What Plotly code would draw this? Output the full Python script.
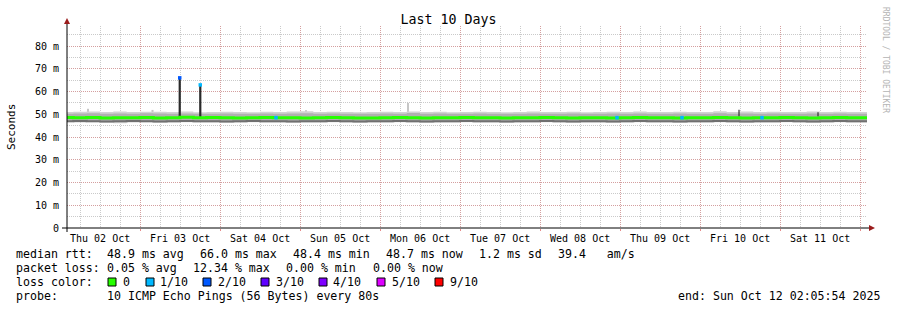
import plotly.graph_objects as go
import pandas as pd

# ---------------- data ----------------
title_text = "Last 10 Days"
start_time = "2025-10-02 02:05:54"
end_time = "2025-10-12 02:05:54"

day_labels = ["Thu 02 Oct", "Fri 03 Oct", "Sat 04 Oct", "Sun 05 Oct", "Mon 06 Oct",
              "Tue 07 Oct", "Wed 08 Oct", "Thu 09 Oct", "Fri 10 Oct", "Sat 11 Oct"]
label_times = ["2025-10-02 12:00", "2025-10-03 12:00", "2025-10-04 12:00", "2025-10-05 12:00",
               "2025-10-06 12:00", "2025-10-07 12:00", "2025-10-08 12:00", "2025-10-09 12:00",
               "2025-10-10 12:00", "2025-10-11 12:00"]
midnights = ["2025-10-03", "2025-10-04", "2025-10-05", "2025-10-06", "2025-10-07",
             "2025-10-08", "2025-10-09", "2025-10-10", "2025-10-11", "2025-10-12"]

ytick_vals = [0, 10, 20, 30, 40, 50, 60, 70, 80]
ytick_text = ["0", "10 m", "20 m", "30 m", "40 m", "50 m", "60 m", "70 m", "80 m"]

# 4-hourly samples (ms) from 2025-10-02 00:00, plus the end point
sample_times = list(pd.date_range("2025-10-02 00:00", periods=61, freq="4h")) + [pd.Timestamp(end_time)]

median_ms = [48.6, 48.5, 48.6, 48.4, 48.5, 48.5, 48.6, 48.4, 48.5, 48.7, 48.5, 48.6, 48.5, 48.4,
             48.5, 48.6, 48.5, 48.5, 48.4, 48.5, 48.6, 48.5, 48.4, 48.4, 48.5, 48.6, 48.5, 48.4,
             48.5, 48.5, 48.6, 48.5, 48.5, 48.4, 48.5, 48.5, 48.6, 48.5, 48.4, 48.5, 48.5, 48.4,
             48.5, 48.6, 48.5, 48.5, 48.4, 48.5, 48.5, 48.6, 48.5, 48.4, 48.5, 48.5, 48.6, 48.5,
             48.4, 48.5, 48.6, 48.5, 48.5, 48.5]
smoke_max_ms = [51.0, 51.1, 51.2, 51.0, 51.2, 51.0, 51.1, 51.1, 51.0, 51.2, 50.9, 51.0, 51.1, 51.0,
                50.9, 51.1, 51.0, 51.2, 51.3, 51.0, 51.1, 51.0, 50.9, 51.0, 51.1, 51.0, 51.2, 51.0,
                51.1, 50.9, 51.0, 51.1, 51.0, 50.9, 51.0, 51.2, 51.0, 51.0, 51.1, 50.9, 51.0, 51.1,
                51.0, 51.2, 51.0, 51.0, 51.1, 51.0, 51.0, 51.3, 51.0, 51.2, 51.0, 51.1, 51.0, 51.0,
                51.2, 51.0, 51.1, 51.0, 51.0, 51.0]
smoke_hi_ms = [50.2, 50.3, 50.4, 50.2, 50.3, 50.2, 50.4, 50.3, 50.2, 50.3, 50.2, 50.2, 50.3, 50.2,
               50.2, 50.3, 50.2, 50.3, 50.4, 50.2, 50.3, 50.2, 50.2, 50.2, 50.3, 50.2, 50.5, 50.2,
               50.3, 50.2, 50.2, 50.3, 50.2, 50.2, 50.2, 50.3, 50.2, 50.2, 50.3, 50.2, 50.2, 50.3,
               50.2, 50.3, 50.2, 50.2, 50.3, 50.2, 50.2, 50.4, 50.2, 50.3, 50.2, 50.3, 50.2, 50.2,
               50.3, 50.2, 50.3, 50.2, 50.2, 50.2]
smoke_core_lo_ms = [46.9, 47.0, 46.9, 46.8, 46.9, 47.0, 46.9, 46.8, 46.9, 47.0, 46.9, 46.9, 46.8, 46.9,
                    47.0, 46.9, 46.9, 46.8, 46.9, 46.9, 47.0, 46.9, 46.8, 46.9, 46.9, 47.0, 46.9, 46.8,
                    46.9, 46.9, 47.0, 46.9, 46.9, 46.8, 46.9, 46.9, 47.0, 46.9, 46.8, 46.9, 46.9, 46.8,
                    46.9, 47.0, 46.9, 46.9, 46.8, 46.9, 46.9, 47.0, 46.9, 46.8, 46.9, 46.9, 47.0, 46.9,
                    46.8, 46.9, 47.0, 46.9, 46.9, 46.9]
smoke_min_ms = [46.5, 46.4, 46.5, 46.3, 46.0, 46.4, 46.5, 46.3, 46.4, 46.5, 46.4, 46.4, 46.3, 46.4,
                46.5, 46.4, 46.4, 46.3, 46.4, 46.4, 46.5, 46.4, 46.3, 46.4, 46.4, 46.5, 46.4, 46.3,
                46.4, 46.4, 46.5, 46.4, 46.4, 46.3, 46.4, 46.4, 46.5, 46.4, 46.3, 46.4, 46.4, 46.3,
                46.4, 46.5, 46.4, 46.4, 46.3, 46.4, 46.4, 46.5, 46.4, 46.3, 46.4, 46.4, 46.5, 46.4,
                46.3, 46.4, 46.5, 46.4, 46.4, 46.4]

# short isolated smoke outliers (light) and dark ping outliers
light_outlier_times = ["2025-10-02 08:24", "2025-10-03 03:45", "2025-10-05 01:48", "2025-10-06 08:24"]
light_outlier_ms = [52.4, 51.9, 51.8, 55.0]
dark_outlier_times = ["2025-10-10 11:42", "2025-10-11 11:24"]
dark_outlier_ms = [52.0, 50.9]

# loss events on the median line
loss_times = ["2025-10-04 16:48", "2025-10-08 23:06", "2025-10-09 18:36", "2025-10-10 18:36"]
loss_values_ms = [48.5, 48.5, 48.5, 48.5]
loss_levels = [1, 1, 1, 1]

# median spikes
spike_times = ["2025-10-03 11:55", "2025-10-03 18:05"]
spike_values_ms = [66.0, 62.9]
spike_loss = [2, 1]

loss_colors = {0: "#26ff00", 1: "#00b8ff", 2: "#0059ff", 3: "#5e00ff", 4: "#7e00ff", 5: "#dd00ff", 9: "#ff0000"}
loss_legend = [(0, "0"), (1, "1/10"), (2, "2/10"), (3, "3/10"), (4, "4/10"), (5, "5/10"), (9, "9/10")]

rtt_items = ["median rtt:", "48.9 ms avg", "66.0 ms max", "48.4 ms min", "48.7 ms now", "1.2 ms sd", "39.4   am/s"]
loss_items = ["packet loss:", "0.05 % avg", "12.34 % max", "0.00 % min", "0.00 % now"]
probe_items = ["probe:", "10 ICMP Echo Pings (56 Bytes) every 80s"]
end_text = "end: Sun Oct 12 02:05:54 2025"

# ---------------- layout geometry (pixels) ----------------
W, H = 897, 310
PL, PR, PT, PB = 67, 30, 26, 82
PW = W - PL - PR     # 800
PH = H - PT - PB     # 202
YMAX = 80 * PH / 182.0
MONO = "DejaVu Sans Mono"
GRID_MAJOR = "rgba(230,90,90,0.38)"
GRID_MINOR = "rgba(150,150,150,0.5)"


def px(x):
    return (x - PL) / PW


def py(y):
    return (PT + PH - y) / PH


fig = go.Figure()

# light outliers behind the smoke
for t, v in zip(light_outlier_times, light_outlier_ms):
    fig.add_trace(go.Scatter(x=[t, t], y=[50.5, v], mode="lines",
                             line=dict(width=2, color="#c6c6c6"), hoverinfo="skip", showlegend=False))

# smoke layers
for lo, hi, col in [(smoke_min_ms, smoke_max_ms, "#d2d2d2"),
                    (smoke_core_lo_ms, smoke_hi_ms, "#b0b0b0")]:
    fig.add_trace(go.Scatter(x=sample_times, y=lo, mode="lines", line=dict(width=0, shape="hv"),
                             hoverinfo="skip", showlegend=False))
    fig.add_trace(go.Scatter(x=sample_times, y=hi, mode="lines", line=dict(width=0, shape="hv"),
                             fill="tonexty", fillcolor=col, hoverinfo="skip", showlegend=False))

# darker smoke directly under the median
fig.add_trace(go.Scatter(x=sample_times, y=smoke_core_lo_ms, mode="lines",
                         line=dict(width=2, shape="hv", color="#707070"),
                         hoverinfo="skip", showlegend=False))

# dark outliers
for t, v in zip(dark_outlier_times, dark_outlier_ms):
    fig.add_trace(go.Scatter(x=[t, t], y=[49.0, v], mode="lines",
                             line=dict(width=1.2, color="#333333"), hoverinfo="skip", showlegend=False))

# spikes
for t, v, l in zip(spike_times, spike_values_ms, spike_loss):
    fig.add_trace(go.Scatter(x=[t, t], y=[48.5, v], mode="lines",
                             line=dict(width=2.2, color="#2a2a2a"), hoverinfo="skip", showlegend=False))

# median line
fig.add_trace(go.Scatter(x=sample_times, y=median_ms, mode="lines",
                         line=dict(width=3, shape="hv", color=loss_colors[0]),
                         hoverinfo="skip", showlegend=False))

# loss-coloured points
fig.add_trace(go.Scatter(x=loss_times, y=loss_values_ms, mode="markers",
                         marker=dict(symbol="square", size=3.5, color=[loss_colors[l] for l in loss_levels],
                                     line=dict(width=0)),
                         hoverinfo="skip", showlegend=False))
fig.add_trace(go.Scatter(x=spike_times, y=spike_values_ms, mode="markers",
                         marker=dict(symbol="square", size=3.5, color=[loss_colors[l] for l in spike_loss],
                                     line=dict(width=0)),
                         hoverinfo="skip", showlegend=False))

fig.update_layout(
    width=W, height=H,
    margin=dict(l=PL, r=PR, t=PT, b=PB, pad=0),
    paper_bgcolor="white", plot_bgcolor="white",
    showlegend=False,
    font=dict(family=MONO, color="black", size=10),
    title=dict(text=title_text, x=0.5, xref="container", xanchor="center",
               y=1 - 19.5 / H, yref="container", yanchor="middle",
               font=dict(family=MONO, size=13.3, color="black")),
    xaxis=dict(type="date", range=[start_time, end_time], tickmode="array",
               tickvals=midnights, ticktext=[""] * len(midnights),
               showgrid=True, gridcolor=GRID_MAJOR, griddash="1px,1px", gridwidth=1,
               ticks="outside", ticklen=2, tickcolor="rgba(220,90,90,0.7)",
               zeroline=False, showline=False, fixedrange=True,
               minor=dict(dtick=6 * 3600 * 1000, tick0="2025-10-02 00:00", showgrid=True,
                          gridcolor=GRID_MINOR, griddash="1px,1px", ticks="")),
    yaxis=dict(range=[0, YMAX], tickmode="array", tickvals=ytick_vals, ticktext=ytick_text,
               showgrid=True, gridcolor=GRID_MAJOR, griddash="1px,1px", gridwidth=1,
               ticks="outside", ticklen=5, tickcolor="rgba(0,0,0,0)",
               tickfont=dict(family=MONO, size=10, color="black"),
               zeroline=False, showline=False, fixedrange=True,
               minor=dict(dtick=5, tick0=0, showgrid=True,
                          gridcolor=GRID_MINOR, griddash="1px,1px", ticks="")),
)

shapes = []
# axes lines
shapes.append(dict(type="line", xref="paper", yref="paper", x0=px(62), x1=px(870), y0=0, y1=0,
                   line=dict(color="black", width=1), layer="above"))
shapes.append(dict(type="line", xref="paper", yref="paper", x0=0, x1=0, y0=py(232), y1=py(22),
                   line=dict(color="black", width=1), layer="above"))
# arrows
arrow_col = "#9b1c1c"
shapes.append(dict(type="path", xref="paper", yref="paper",
                   path=f"M {px(64)},{py(24)} L {px(70)},{py(24)} L {px(67)},{py(18)} Z",
                   fillcolor=arrow_col, line=dict(width=0), layer="above"))
shapes.append(dict(type="path", xref="paper", yref="paper",
                   path=f"M {px(869)},{py(225)} L {px(869)},{py(231)} L {px(875)},{py(228)} Z",
                   fillcolor=arrow_col, line=dict(width=0), layer="above"))

annotations = []
# day labels
for t, lab in zip(label_times, day_labels):
    annotations.append(dict(x=t, xref="x", y=0, yref="paper", yanchor="top", xanchor="center",
                            yshift=-4, text=lab, showarrow=False, borderpad=0,
                            font=dict(family=MONO, size=10, color="black")))
# y-axis title
annotations.append(dict(x=px(11), xref="paper", y=py(127), yref="paper", text="Seconds",
                        textangle=-90, showarrow=False, xanchor="center", yanchor="middle",
                        font=dict(family=MONO, size=11, color="black")))
# watermark
annotations.append(dict(x=px(886), xref="paper", y=py(60), yref="paper", text="RRDTOOL / TOBI OETIKER",
                        textangle=90, showarrow=False, xanchor="center", yanchor="middle",
                        font=dict(family=MONO, size=8, color="#b4b4b4")))

LF = dict(family=MONO, size=11.6, color="black")


def legend_text(txt, x, y, anchor="left"):
    annotations.append(dict(x=px(x), xref="paper", y=py(y), yref="paper", text=txt.replace(" ", "&nbsp;"),
                            showarrow=False, xanchor=anchor, yanchor="middle", borderpad=0,
                            borderwidth=0, font=LF))


rtt_x = [16, 107.3, 200, 293.3, 386, 479.3, 558.3]
for txt, x in zip(rtt_items, rtt_x):
    legend_text(txt, x, 254)
loss_x = [16, 107.3, 193.3, 286.3, 372.5]
for txt, x in zip(loss_items, loss_x):
    legend_text(txt, x, 268)
legend_text("loss color:", 16, 282)
sq_x = [108, 146, 203, 261, 319, 377, 435]
lab_x = [123, 160, 218, 276, 333, 392, 450]
for (lvl, lab), sx, lx in zip(loss_legend, sq_x, lab_x):
    shapes.append(dict(type="rect", xref="paper", yref="paper", x0=px(sx), x1=px(sx + 8),
                       y0=py(286), y1=py(278), fillcolor=loss_colors[lvl],
                       line=dict(color="black", width=1), layer="above"))
    legend_text(lab, lx, 282)
legend_text(probe_items[0], 16, 296)
legend_text(probe_items[1], 107.3, 296)
legend_text(end_text, 880, 296, anchor="right")

fig.update_layout(shapes=shapes, annotations=annotations)
fig.write_html("out.html")
